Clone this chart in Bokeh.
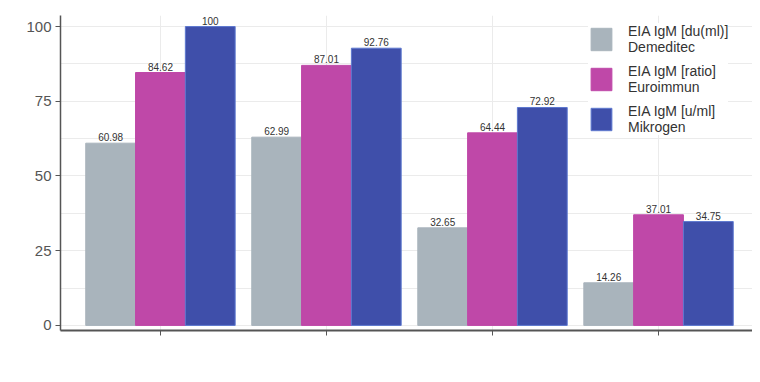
from bokeh.plotting import figure
from bokeh.models import ColumnDataSource, Range1d, FixedTicker, Legend, LegendItem
from bokeh.embed import file_html
from bokeh.resources import INLINE
from bokeh.core.properties import value

groups = ["", "", "", ""]
series = ["EIA IgM [du(ml)]\nDemeditec", "EIA IgM [ratio]\nEuroimmun", "EIA IgM [u/ml]\nMikrogen"]
demeditec = [60.98, 62.99, 32.65, 14.26]
euroimmun = [84.62, 87.01, 64.44, 37.01]
mikrogen = [100, 92.76, 72.92, 34.75]
colors = ["#A9B4BC", "#BF48A8", "#3F4FAA"]
outlines = ["#A9B4BC", "#BF48A8", "#5D78CF"]
y_ticks = [0, 25, 50, 75, 100]

FONT = "Liberation Sans"

p = figure(width=752, height=374, output_backend="svg", toolbar_location=None,
           x_range=Range1d(0.398, 4.566), y_range=Range1d(-1.7, 103.7),
           min_border_left=60, min_border_right=0, min_border_top=15, min_border_bottom=44)
p.outline_line_color = None
p.background_fill_color = "white"

centers = list(range(1, len(groups) + 1))
bw = 0.3
offsets = [-bw, 0, bw]
vals = [demeditec, euroimmun, mikrogen]
items = []
for i, (name, v) in enumerate(zip(series, vals)):
    xs = [c + offsets[i] for c in centers]
    src = ColumnDataSource(dict(x=xs, top=v, lbl=[("%g" % t) if t == int(t) else ("%.2f" % t) for t in v]))
    r = p.vbar(x="x", top="top", bottom=0, width=bw, source=src, fill_color=colors[i],
               line_color=outlines[i], line_width=1)
    p.text(x="x", y="top", text="lbl", source=src, text_align="center", text_baseline="bottom",
           y_offset=-2, text_font=value(FONT), text_font_size="10px", text_color="#333333")
    items.append(LegendItem(label=name, renderers=[r]))

legend = Legend(items=items, location=(528, 195), border_line_color=None,
                background_fill_color="white", background_fill_alpha=1,
                glyph_width=26, glyph_height=28, label_text_font=FONT, label_text_font_size="14px",
                label_text_color="#333333", spacing=8, padding=4, margin=0,
                label_standoff=14, label_height=32, label_text_line_height=1.05)
p.add_layout(legend)

p.xaxis.ticker = FixedTicker(ticks=centers)
p.xaxis.major_label_overrides = {c: g for c, g in zip(centers, groups)}
p.yaxis.ticker = FixedTicker(ticks=y_ticks, minor_ticks=[12.5, 37.5, 62.5, 87.5])

for ax in (p.xaxis, p.yaxis):
    ax.axis_line_color = "#555555"
    ax.major_tick_line_color = "#555555"
    ax.major_tick_out = 5
    ax.major_tick_in = 0
    ax.minor_tick_line_color = None
    ax.major_label_text_font = FONT
    ax.major_label_text_font_size = "15px"
    ax.major_label_text_color = "#555555"
    ax.major_label_standoff = 4
p.xaxis.axis_line_width = 2
p.yaxis.axis_line_width = 1.5

p.xgrid.grid_line_color = "#ebebeb"
p.ygrid.grid_line_color = "#ebebeb"
p.ygrid.minor_grid_line_color = "#ebebeb"
p.xgrid.grid_line_width = 1
p.ygrid.grid_line_width = 1.2

open("out.html", "w").write(file_html(p, INLINE))
